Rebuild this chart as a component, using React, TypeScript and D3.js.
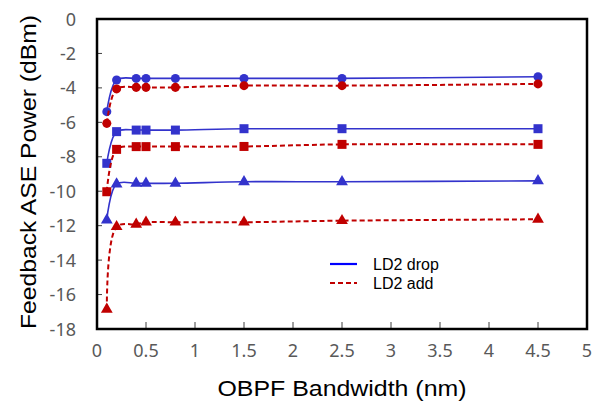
import React, { useEffect, useRef } from 'react';
import * as d3 from 'd3';

// OBPF bandwidth (nm)
const bandwidth = [0.1, 0.2, 0.4, 0.5, 0.8, 1.5, 2.5, 4.5];

// feedback ASE power (dBm)
const dropCircle = [-5.38, -3.54, -3.45, -3.45, -3.45, -3.45, -3.45, -3.35];
const addCircle = [-6.06, -4.06, -3.97, -3.97, -3.97, -3.87, -3.87, -3.77];
const dropSquare = [-8.38, -6.54, -6.45, -6.45, -6.45, -6.37, -6.37, -6.37];
const addSquare = [-10.03, -7.57, -7.41, -7.41, -7.41, -7.4, -7.28, -7.28];
const dropTriangle = [-11.67, -9.58, -9.54, -9.54, -9.54, -9.45, -9.45, -9.4];
const addTriangle = [-16.86, -12.06, -11.92, -11.8, -11.8, -11.8, -11.71, -11.63];

const xTicks = [0, 0.5, 1, 1.5, 2, 2.5, 3, 3.5, 4, 4.5, 5];
const yTicks = [0, -2, -4, -6, -8, -10, -12, -14, -16, -18];

const legendLabels = ['LD2 drop', 'LD2 add'];

const BLUE = '#3333cc';
const RED = '#c00000';

export default function App() {
    const svgRef = useRef(null);
    const width = 594;
    const height = 406;

    useEffect(() => {
        d3.select(svgRef.current).selectAll('*').remove();
        const svg = d3.select(svgRef.current);

        const x = d3.scaleLinear().domain([0, 5]).range([97, 587]);
        const y = d3.scaleLinear().domain([-18, 0]).range([329, 19]);

        const series = [
            { values: dropCircle, color: BLUE, dash: null, symbol: d3.symbolCircle, size: 64 },
            { values: addCircle, color: RED, dash: '5,3', symbol: d3.symbolCircle, size: 64 },
            { values: dropSquare, color: BLUE, dash: null, symbol: d3.symbolSquare, size: 81 },
            { values: addSquare, color: RED, dash: '5,3', symbol: d3.symbolSquare, size: 81 },
            { values: dropTriangle, color: BLUE, dash: null, symbol: d3.symbolTriangle, size: 60 },
            { values: addTriangle, color: RED, dash: '5,3', symbol: d3.symbolTriangle, size: 60 },
        ];

        // tick marks (inside)
        svg.append('g')
            .selectAll('line')
            .data(yTicks)
            .join('line')
            .attr('x1', x(0))
            .attr('x2', x(0) + 5)
            .attr('y1', (d) => y(d))
            .attr('y2', (d) => y(d))
            .attr('stroke', '#404040')
            .attr('stroke-width', 1);

        svg.append('g')
            .selectAll('line')
            .data(xTicks)
            .join('line')
            .attr('x1', (d) => x(d))
            .attr('x2', (d) => x(d))
            .attr('y1', y(-18))
            .attr('y2', y(-18) - 7)
            .attr('stroke', '#404040')
            .attr('stroke-width', 1);

        // tick labels
        svg.append('g')
            .selectAll('text')
            .data(yTicks)
            .join('text')
            .attr('x', 76)
            .attr('y', (d) => y(d) + 6.5)
            .attr('text-anchor', 'end')
            .attr('font-family', 'Noto Sans, sans-serif')
            .attr('font-size', 18)
            .attr('fill', '#595959')
            .text((d) => d);

        svg.append('g')
            .selectAll('text')
            .data(xTicks)
            .join('text')
            .attr('x', (d) => x(d))
            .attr('y', 357)
            .attr('text-anchor', 'middle')
            .attr('font-family', 'Noto Sans, sans-serif')
            .attr('font-size', 18)
            .attr('fill', '#595959')
            .text((d) => d);

        // lines and markers
        const line = d3
            .line()
            .x((d) => x(d[0]))
            .y((d) => y(d[1]))
            .curve(d3.curveCatmullRom.alpha(0.5));

        series.forEach((s) => {
            const pts = bandwidth.map((b, i) => [b, s.values[i]]);
            svg.append('path')
                .datum(pts)
                .attr('fill', 'none')
                .attr('stroke', s.color)
                .attr('stroke-width', s.dash ? 2 : 1.6)
                .attr('stroke-dasharray', s.dash)
                .attr('d', line);
            svg.append('g')
                .selectAll('path')
                .data(pts)
                .join('path')
                .attr('transform', (d) => `translate(${x(d[0])},${y(d[1])})`)
                .attr('d', d3.symbol().type(s.symbol).size(s.size))
                .attr('fill', s.color);
        });

        // frame
        svg.append('rect')
            .attr('x', x(0))
            .attr('y', y(0))
            .attr('width', x(5) - x(0))
            .attr('height', y(-18) - y(0))
            .attr('fill', 'none')
            .attr('stroke', '#000')
            .attr('stroke-width', 2.5);

        // axis titles
        svg.append('text')
            .attr('x', 342)
            .attr('y', 396)
            .attr('text-anchor', 'middle')
            .attr('font-family', 'Liberation Sans, Arial, sans-serif')
            .attr('font-size', 22)
            .attr('fill', '#000')
            .attr('textLength', 249)
            .attr('lengthAdjust', 'spacingAndGlyphs')
            .text('OBPF Bandwidth (nm)');

        svg.append('text')
            .attr('transform', 'translate(36,172) rotate(-90)')
            .attr('text-anchor', 'middle')
            .attr('font-family', 'Liberation Sans, Arial, sans-serif')
            .attr('font-size', 22)
            .attr('fill', '#000')
            .attr('textLength', 314)
            .attr('lengthAdjust', 'spacingAndGlyphs')
            .text('Feedback ASE Power (dBm)');

        // legend
        const legend = svg.append('g');
        const legendY = [264, 283];
        legend.selectAll('line')
            .data(legendLabels)
            .join('line')
            .attr('x1', 330)
            .attr('x2', 357)
            .attr('y1', (d, i) => legendY[i])
            .attr('y2', (d, i) => legendY[i])
            .attr('stroke', (d, i) => (i === 0 ? '#0000ff' : RED))
            .attr('stroke-width', 2.2)
            .attr('stroke-dasharray', (d, i) => (i === 0 ? null : '5,3'));
        legend.selectAll('text')
            .data(legendLabels)
            .join('text')
            .attr('x', 373)
            .attr('y', (d, i) => legendY[i] + 5.5)
            .attr('font-family', 'Liberation Sans, Arial, sans-serif')
            .attr('font-size', 16)
            .attr('fill', '#000')
            .text((d) => d);
    }, []);

    return (
        <svg
            ref={svgRef}
            width={width}
            height={height}
            style={{ position: 'absolute', left: 0, top: 0, background: '#fff' }}
        />
    );
}
